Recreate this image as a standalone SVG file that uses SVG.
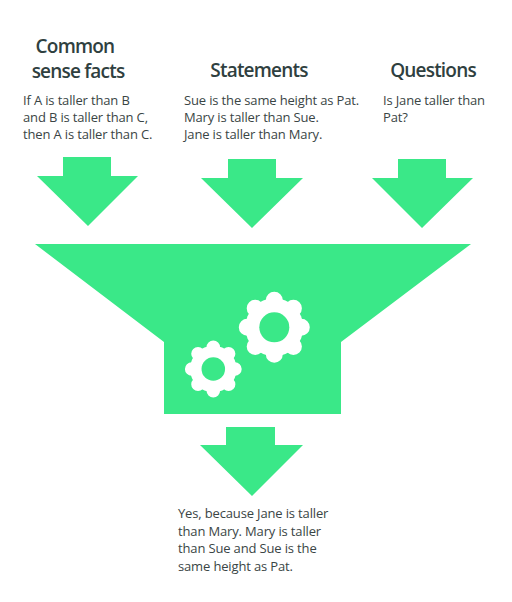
<svg xmlns="http://www.w3.org/2000/svg" width="512" height="602" viewBox="0 0 512 602">
<style>
.shape{fill:#3ae888}
.h{font-family:"Open Sans","Noto Sans",sans-serif;font-weight:600;font-size:19px;fill:#2f4040;text-anchor:middle;letter-spacing:-.8px}
.b{font-family:"Open Sans","Noto Sans",sans-serif;font-size:13px;fill:#3a4545;letter-spacing:-.15px}
.g{fill:#fff}
.t{stroke:#fff;stroke-linecap:round}
</style>
<defs>
<g id="teeth">
<path class="t" stroke-width="17" d="M0 0V-27M0 0V27M0 0H-27M0 0H27M0 0L19.100 -19.100M0 0L-19.100 19.100M0 0L-19.100 -19.100M0 0L19.100 19.100"/>
</g>
</defs>
<rect width="512" height="602" fill="#fff"/>
<g id="connectors">
<path id="arrow-facts" class="shape" d="M63 157H111V176H138L88 226L37 176H63Z"/>
<path id="arrow-statements" class="shape" d="M228 159H276V178H303L252 228L201 178H228Z"/>
<path id="arrow-questions" class="shape" d="M398 159H446V178H473L422 228L372 178H398Z"/>
<path id="arrow-out" class="shape" d="M226 427H275V445H303L252 496L200 445H226Z"/>
</g>
<g id="node-facts">
<text class="h" x="75" y="53">Common</text>
<text class="h" x="78" y="78">sense facts</text>
<text class="b" x="23" y="104.500">If A is taller than B</text>
<text class="b" x="23" y="121.500">and B is taller than C,</text>
<text class="b" x="23" y="139">then A is taller than C.</text>
</g>
<g id="node-statements">
<text class="h" x="259" y="77">Statements</text>
<text class="b" x="184" y="104.500">Sue is the same height as Pat.</text>
<text class="b" x="184" y="121.500">Mary is taller than Sue.</text>
<text class="b" x="184" y="139">Jane is taller than Mary.</text>
</g>
<g id="node-questions">
<text class="h" x="433" y="77">Questions</text>
<text class="b" x="383" y="104.500">Is Jane taller than</text>
<text class="b" x="383" y="121.500">Pat?</text>
</g>
<g id="node-funnel">
<path class="shape" d="M35 244H471L341 342V414H164V342Z"/>
<g id="gear-large" transform="translate(274.300 327.300)">
<use href="#teeth"/>
<circle class="g" r="29"/>
<circle class="shape" r="15"/>
</g>
<g id="gear-small" transform="translate(213.300 369) scale(.8)">
<use href="#teeth"/>
<circle class="g" r="29"/>
<circle class="shape" r="14.700"/>
</g>
</g>
<g id="node-answer">
<text class="b" x="178" y="517.500">Yes, because Jane is taller</text>
<text class="b" x="178" y="535.500">than Mary. Mary is taller</text>
<text class="b" x="178" y="552.500">than Sue and Sue is the</text>
<text class="b" x="178" y="570.500">same height as Pat.</text>
</g>
</svg>
